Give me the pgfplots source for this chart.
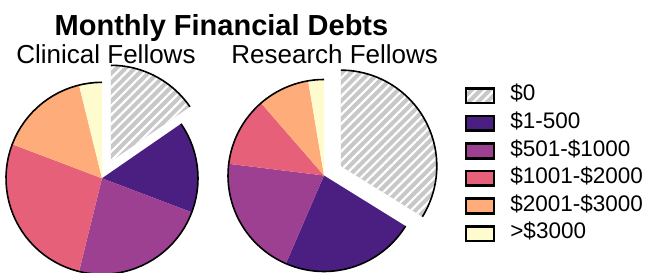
\documentclass[border=0pt]{standalone}
\usepackage{pgfplots}
\pgfplotsset{compat=1.18}
\usepackage{fontspec}
\setmainfont{Liberation Sans}
\usetikzlibrary{patterns.meta}
\definecolor{cZ}{RGB}{200,200,200}
\definecolor{cA}{RGB}{75,31,130}
\definecolor{cB}{RGB}{158,64,146}
\definecolor{cC}{RGB}{230,96,122}
\definecolor{cD}{RGB}{254,172,122}
\definecolor{cE}{RGB}{254,251,206}
\pgfplotsset{
  pieax/.style={hide axis, clip=false, x=96bp, y=96bp,
    xmin=-1.25, xmax=1.25, ymin=-1.25, ymax=1.25, anchor=center, samples=80},
  slice/.style={draw=none, fill=#1, forget plot},
  hatched/.style={draw=none, fill=cZ, forget plot,
    postaction={pattern={Lines[angle=45,distance=6.5bp,line width=2.2bp]}, pattern color=white}},
  rim/.style={draw=black, line width=1.6bp, forget plot, no markers},
}
\begin{document}
\begin{tikzpicture}[x=1bp,y=1bp]
% ---------------- Clinical Fellows (counts 4,4,6,7,4,1 of 26)
\begin{axis}[pieax, at={(102bp,93.7bp)}]
\addplot[hatched, domain=34.615:90] ({0.0929+cos(x)},{0.1771+sin(x)}) -- (axis cs:0.0929,0.1771) -- cycle;
\addplot[rim, domain=34.615:90] ({0.0929+cos(x)},{0.1771+sin(x)});
\addplot[slice=cA, domain=-20.769:34.615] ({cos(x)},{sin(x)}) -- (axis cs:0,0) -- cycle;
\addplot[slice=cB, domain=-103.846:-20.769] ({cos(x)},{sin(x)}) -- (axis cs:0,0) -- cycle;
\addplot[slice=cC, domain=-200.769:-103.846] ({cos(x)},{sin(x)}) -- (axis cs:0,0) -- cycle;
\addplot[slice=cD, domain=-256.154:-200.769] ({cos(x)},{sin(x)}) -- (axis cs:0,0) -- cycle;
\addplot[slice=cE, domain=-270:-256.154] ({cos(x)},{sin(x)}) -- (axis cs:0,0) -- cycle;
\addplot[rim, domain=-270:34.615] ({cos(x)},{sin(x)});
\end{axis}
% ---------------- Research Fellows
\begin{axis}[pieax, at={(324bp,96.5bp)},
  legend style={at={(1.086,0.8896)}, anchor=north west, draw=none, fill=none,
    inner sep=0pt, outer sep=0pt, font=\fontsize{22.5bp}{26bp}\selectfont,
    row sep=0pt, column sep=15bp,
    nodes={inner sep=0pt, text height=19bp, text depth=8.55bp}},
  legend cell align=left,
  legend image code/.code={\draw[draw=black, line width=2.7bp, #1] (0bp,-7.35bp) rectangle (28bp,7.35bp);}]
\addplot[hatched, domain=-31.8:90] ({0.1748+cos(x)},{0.0973+sin(x)}) -- (axis cs:0.1748,0.0973) -- cycle;
\addplot[rim, domain=-31.8:90] ({0.1748+cos(x)},{0.0973+sin(x)});
\addplot[slice=cA, domain=-113.4:-31.8] ({cos(x)},{sin(x)}) -- (axis cs:0,0) -- cycle;
\addplot[slice=cB, domain=-187.0:-113.4] ({cos(x)},{sin(x)}) -- (axis cs:0,0) -- cycle;
\addplot[slice=cC, domain=-229.0:-187.0] ({cos(x)},{sin(x)}) -- (axis cs:0,0) -- cycle;
\addplot[slice=cD, domain=-260.5:-229.0] ({cos(x)},{sin(x)}) -- (axis cs:0,0) -- cycle;
\addplot[slice=cE, domain=-270:-260.5] ({cos(x)},{sin(x)}) -- (axis cs:0,0) -- cycle;
\addplot[rim, domain=-270:-31.8] ({cos(x)},{sin(x)});
\addlegendimage{fill=cZ, postaction={pattern={Lines[angle=45,distance=6.5bp,line width=2.2bp]}, pattern color=white}}
\addlegendentry{\$0}
\addlegendimage{fill=cA}\addlegendentry{\$1-500}
\addlegendimage{fill=cB}\addlegendentry{\$501-\$1000}
\addlegendimage{fill=cC}\addlegendentry{\$1001-\$2000}
\addlegendimage{fill=cD}\addlegendentry{\$2001-\$3000}
\addlegendimage{fill=cE}\addlegendentry{>\$3000}
\end{axis}
% ---------------- titles
\node[anchor=base, font=\fontsize{29bp}{33bp}\selectfont\bfseries] at (221.5,237) {Monthly Financial Debts};
\node[anchor=base, font=\fontsize{26bp}{30bp}\selectfont] at (106,208.7) {Clinical Fellows};
\node[anchor=base, font=\fontsize{26bp}{30bp}\selectfont] at (334.7,208.7) {Research Fellows};
\pgfresetboundingbox
\useasboundingbox (0,0) rectangle (648,272);
\end{tikzpicture}
\end{document}
